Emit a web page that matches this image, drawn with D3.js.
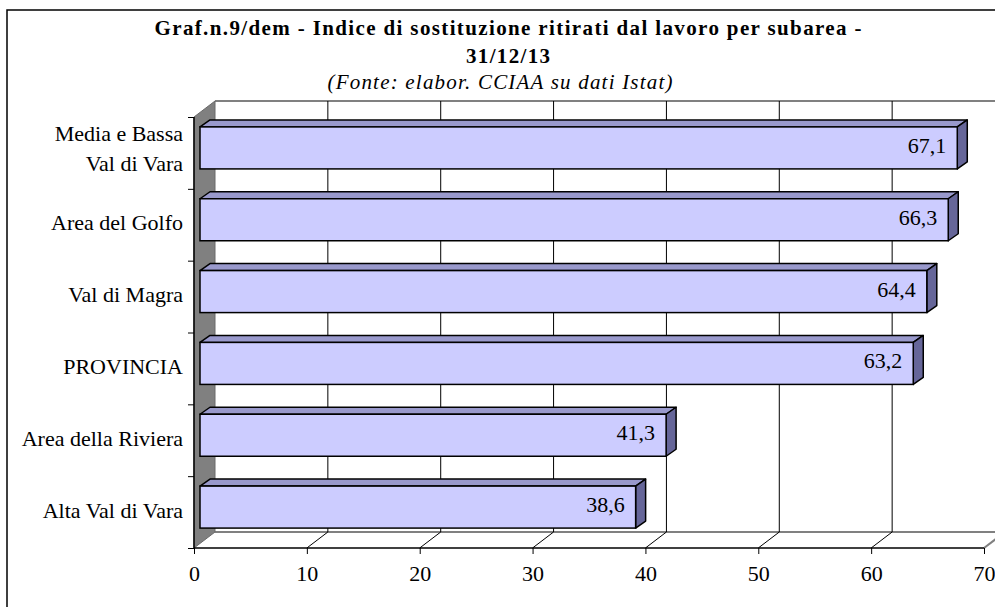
<!DOCTYPE html>
<html lang="it">
<head>
<meta charset="utf-8" />
<script src="https://d3js.org/d3.v7.min.js"></script>
<style>
  body { margin: 0; background: #fff; }
  text { font-family: "Liberation Serif", "Times New Roman", serif; fill: #000; }
</style>
</head>
<body>
<script>
// data
const categories = ["Media e Bassa|Val di Vara", "Area del Golfo", "Val di Magra", "PROVINCIA", "Area della Riviera", "Alta Val di Vara"];
const values = [67.1, 66.3, 64.4, 63.2, 41.3, 38.6];
const xTicks = [0, 10, 20, 30, 40, 50, 60, 70];

const w = 995, h = 607;
const plotL = 194, plotR = 984, plotT = 117, plotB = 548;
const dx = 21, dy = -16;      // wall depth
const bdx = 10, bdy = -7;     // bar depth
const barH = 42;

const svg = d3.select("body").append("svg").attr("width", w).attr("height", h);

// outer frame
svg.append("rect").attr("x", 7).attr("y", 10).attr("width", 1000).attr("height", 700)
  .attr("fill", "#fff").attr("stroke", "#000").attr("stroke-width", 1.5);

// title
svg.append("text").attr("x", 508).attr("y", 35).attr("text-anchor", "middle")
  .attr("font-weight", "bold").style("font-size", "21px")
  .attr("textLength", 707).attr("lengthAdjust", "spacing")
  .text("Graf.n.9/dem - Indice di sostituzione ritirati dal lavoro per subarea -");
svg.append("text").attr("x", 508).attr("y", 63).attr("text-anchor", "middle")
  .attr("font-weight", "bold").style("font-size", "21px")
  .attr("textLength", 84).attr("lengthAdjust", "spacing").text("31/12/13");
svg.append("text").attr("x", 500).attr("y", 89).attr("text-anchor", "middle")
  .attr("font-style", "italic").style("font-size", "21px")
  .attr("textLength", 345).attr("lengthAdjust", "spacing")
  .text("(Fonte: elabor. CCIAA su dati Istat)");

const x = d3.scaleLinear().domain([0, 70]).range([plotL, plotR]);
const y = d3.scaleBand().domain(categories).range([plotT, plotB]);
const yIdx = d3.scaleLinear().domain([0, categories.length]).range([plotB, plotT]);

// back wall lines
const grid = svg.append("g");
grid.append("line").attr("x1", plotL + dx).attr("x2", w).attr("y1", plotT + dy).attr("y2", plotT + dy)
  .attr("stroke", "#808080").attr("stroke-width", 2);
grid.append("line").attr("x1", plotL + dx).attr("x2", w).attr("y1", plotB + dy).attr("y2", plotB + dy)
  .attr("stroke", "#808080").attr("stroke-width", 2);
grid.append("line").attr("x1", plotR).attr("y1", plotB).attr("x2", plotR + dx).attr("y2", plotB + dy)
  .attr("stroke", "#808080").attr("stroke-width", 2);
grid.selectAll(".vg").data(xTicks.slice(1)).join("line")
  .attr("x1", d => x(d) + dx).attr("x2", d => x(d) + dx)
  .attr("y1", plotT + dy).attr("y2", plotB + dy)
  .attr("stroke", "#000").attr("stroke-width", 1);
grid.selectAll(".fg").data(xTicks.slice(1, -1)).join("line")
  .attr("x1", d => x(d)).attr("y1", plotB).attr("x2", d => x(d) + dx).attr("y2", plotB + dy)
  .attr("stroke", "#000").attr("stroke-width", 1);

// side wall
svg.append("polygon")
  .attr("points", [[plotL, plotT], [plotL + dx, plotT + dy], [plotL + dx, plotB + dy], [plotL, plotB]].join(" "))
  .attr("fill", "#808080").attr("stroke", "#6a6a6a").attr("stroke-width", 1);

// bars
const bars = svg.append("g").selectAll("g").data(categories).join("g");
bars.each(function (c, i) {
  const g = d3.select(this);
  const x0 = x(0) + 6, x1 = x(values[i]) + 6;
  const yt = y(c) + y.bandwidth() / 2 - 5 - barH / 2, yb = yt + barH;
  g.append("polygon")
    .attr("points", [[x0, yt], [x0 + bdx, yt + bdy], [x1 + bdx, yt + bdy], [x1, yt]].join(" "))
    .attr("fill", "#9999CC").attr("stroke", "#000").attr("stroke-width", 1.5).attr("stroke-linejoin", "round");
  g.append("polygon")
    .attr("points", [[x1, yt], [x1 + bdx, yt + bdy], [x1 + bdx, yb + bdy], [x1, yb]].join(" "))
    .attr("fill", "#666699").attr("stroke", "#000").attr("stroke-width", 1.5).attr("stroke-linejoin", "round");
  g.append("rect").attr("x", x0).attr("y", yt).attr("width", x1 - x0).attr("height", barH)
    .attr("fill", "#CCCCFF").attr("stroke", "#000").attr("stroke-width", 1.5);
  g.append("text").attr("x", x1 - 11).attr("y", yt + barH / 2 + 5).attr("text-anchor", "end")
    .style("font-size", "22px").text(d3.format(".1f")(values[i]).replace(".", ","));
});

// axes
const xAxis = svg.append("g").attr("transform", `translate(0,${plotB})`)
  .call(d3.axisBottom(x).tickValues(xTicks).tickSize(6).tickPadding(11).tickFormat(d3.format("d")));
xAxis.select(".domain").attr("d", `M${plotL},0H${plotR}`).attr("stroke-width", 1.5);
xAxis.selectAll("text").style("font-size", "22px").style("font-family", "Liberation Serif");

const yAxis = svg.append("g").attr("transform", `translate(${plotL},0)`)
  .call(d3.axisLeft(yIdx).tickValues(d3.range(categories.length + 1)).tickSize(6).tickFormat(""));
yAxis.select(".domain").attr("d", `M0,${plotB}V${plotT}`).attr("stroke-width", 1.5);

// category labels
svg.append("g").selectAll("text").data(categories).join("text")
  .attr("text-anchor", "end").style("font-size", "22px")
  .attr("transform", d => `translate(183,${y(d) + y.bandwidth() / 2 + 5.5})`)
  .each(function (d) {
    const lines = d.split("|");
    const t = d3.select(this);
    lines.forEach((l, k) => {
      t.append("tspan").attr("x", 0).attr("y", (k - (lines.length - 1) / 2) * 30 - (lines.length - 1) * 2).text(l);
    });
  });
</script>
</body>
</html>
